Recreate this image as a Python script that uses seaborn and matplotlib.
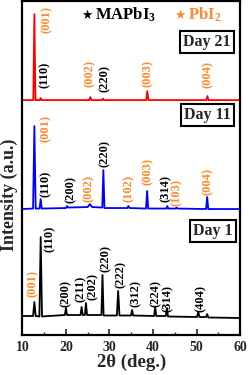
import matplotlib
matplotlib.use("Agg")

import numpy as np
import pandas as pd
import seaborn as sns
import matplotlib.pyplot as plt


# ---------------------------------------------------------------------------
# Data (2theta in deg., intensity above each trace's own baseline, a.u.)
# ---------------------------------------------------------------------------

day1_x = [10, 12.45, 12.75, 13.05, 13.9, 14.2, 14.5, 19.75, 20.0, 20.25,
          23.35, 23.6, 23.85, 24.35, 24.6, 24.85, 28.15, 28.4, 28.65,
          31.7, 32.0, 32.3, 34.95, 35.2, 35.45, 40.25, 40.5, 40.75,
          42.95, 43.2, 43.45, 50.1, 50.4, 50.7, 52.2, 52.45, 52.7, 60]
day1_y = [1, 1, 15, 1, 0.5, 80, 0.5, 2, 9, 2,
          2, 10, 2, 2, 14, 2, 2, 42, 1.5,
          1.5, 26, 1.5, 1.5, 7, 1.5, 1, 10, 1,
          1, 9, 0.5, 0, 5, 0, 0, 3, -0.5, -1]

day11_x = [10, 12.45, 12.75, 13.05, 13.95, 14.2, 14.45, 20.0, 20.25, 20.5,
           25.0, 25.5, 26.0, 28.35, 28.6, 28.85, 34.1, 34.35, 34.6,
           38.4, 38.65, 38.9, 43.1, 43.3, 43.5, 45.2, 45.4, 45.6,
           52.2, 52.45, 52.7, 60]
day11_y = [0, 0.5, 83, 0.5, 0.5, 10, 0.5, 1, 3, 1.5,
           2, 5, 2, 1.5, 39, 1, 1, 3, 1,
           0.5, 18, 0.5, 0.5, 3, 0.5, 0.5, 1.5, 0.5,
           0, 12, 0, 0]

day21_x = [10, 12.5, 12.75, 13.0, 14.0, 14.2, 14.4, 25.35, 25.6, 25.85,
           28.3, 28.5, 28.7, 38.45, 38.7, 38.95, 52.25, 52.5, 52.75, 60]
day21_y = [0, 0, 86, 0, 0, 2, 0, 0, 3, 0,
           0, 1.5, 0, 0, 9, 0, 0, 4, 0, 0]

# peak labels: hkl text, 2theta, label base height, phase
day1_labels = ["(001)", "(110)", "(200)", "(211)", "(202)", "(220)",
               "(222)", "(312)", "(224)", "(314)", "(404)"]
day1_lab_x = [12.4, 16.2, 20.0, 23.5, 26.1, 29.2, 32.6, 36.1, 40.7, 43.3, 51.0]
day1_lab_y = [38, 83, 28, 33, 35, 63, 47, 28, 28, 23, 23]
day1_phase = ["P", "M", "M", "M", "M", "M", "M", "M", "M", "M", "M"]

day11_labels = ["(001)", "(110)", "(200)", "(002)", "(220)", "(102)",
                "(003)", "(314)", "(103)", "(004)"]
day11_lab_x = [15.4, 15.4, 21.2, 25.2, 29.0, 34.4, 38.7, 42.9, 45.5, 52.5]
day11_lab_y = [193, 138, 132, 133, 168, 133, 150, 133, 129, 140]
day11_phase = ["P", "M", "M", "P", "M", "P", "P", "M", "P", "P"]

day21_labels = ["(001)", "(110)", "(002)", "(220)", "(003)", "(004)"]
day21_lab_x = [15.5, 15.2, 25.5, 29.0, 38.7, 52.7]
day21_lab_y = [302, 247, 248, 243, 248, 247]
day21_phase = ["P", "M", "P", "M", "P", "P"]

day_names = ["Day 1", "Day 11", "Day 21"]


# ---------------------------------------------------------------------------
# Style
# ---------------------------------------------------------------------------

sns.set_style("ticks")

plt.rcParams["font.family"] = ["Liberation Serif", "DejaVu Sans"]
plt.rcParams["font.weight"] = "bold"
plt.rcParams["mathtext.fontset"] = "custom"
plt.rcParams["mathtext.rm"] = "Liberation Serif:bold"
plt.rcParams["mathtext.bf"] = "Liberation Serif:bold"
plt.rcParams["mathtext.default"] = "bf"

ORANGE = "#FF8A2A"
phase_color = {"M": "black", "P": ORANGE}

offsets = [18, 126, 235]
trace_colors = ["black", "#0000FF", "#FF0000"]
box_pos = [(53.8, 104), (52.6, 220), (52.4, 293)]


# ---------------------------------------------------------------------------
# Plot
# ---------------------------------------------------------------------------

fig = plt.figure(figsize=(2.49, 3.75), dpi=100)
ax = fig.add_axes([0.090, 0.1067, 0.874, 0.8903])

traces = [(day1_x, day1_y), (day11_x, day11_y), (day21_x, day21_y)]

for (xs, ys), off, col in zip(traces, offsets, trace_colors):
    df = pd.DataFrame({"two_theta": xs, "intensity": np.array(ys) + off})
    sns.lineplot(data=df, x="two_theta", y="intensity", ax=ax,
                 color=col, lw=1.3, estimator=None, sort=False)

label_sets = [
    (day1_labels, day1_lab_x, day1_lab_y, day1_phase),
    (day11_labels, day11_lab_x, day11_lab_y, day11_phase),
    (day21_labels, day21_lab_x, day21_lab_y, day21_phase),
]

for labels, lx, ly, phase in label_sets:
    for t, x, y, p in zip(labels, lx, ly, phase):
        ax.text(x, y, t, rotation=90, ha="center", va="bottom",
                fontsize=9, fontweight="bold", color=phase_color[p])

for name, (bx, by) in zip(day_names, box_pos):
    ax.text(bx, by, name, ha="center", va="center", fontsize=11.5,
            fontweight="bold",
            bbox=dict(boxstyle="square,pad=0.2", fc="white", ec="black", lw=1.5))

# phase legend
ax.text(24.8, 320, "★", ha="center", va="center", fontsize=9,
        family="DejaVu Sans", color="black")
ax.text(26.6, 320, r"MAPbI$_3$", ha="left", va="center", fontsize=12,
        fontweight="bold", color="black")
ax.text(46.2, 320, "★", ha="center", va="center", fontsize=9,
        family="DejaVu Sans", color=ORANGE)
ax.text(48.0, 320, r"PbI$_2$", ha="left", va="center", fontsize=12,
        fontweight="bold", color=ORANGE)

ax.set_xlim(10, 60)
ax.set_ylim(0, 334)
ax.set_xticks([10, 20, 30, 40, 50, 60])
ax.set_xticks(np.arange(15, 60, 10), minor=True)
ax.set_yticks([])

ax.tick_params(axis="x", direction="in", length=4, width=1.2, labelsize=10, pad=4)
ax.tick_params(axis="x", which="minor", direction="in", length=2, width=1.0)
for lab in ax.get_xticklabels():
    lab.set_fontweight("bold")

for sp in ax.spines.values():
    sp.set_linewidth(1.6)
    sp.set_color("black")

ax.set_xlabel("2θ (deg.)", fontsize=13.5, fontweight="bold", labelpad=0)
ax.set_ylabel("Intensity (a.u.)", fontsize=13, fontweight="bold")
ax.yaxis.set_label_coords(-0.02, 0.42)

fig.savefig("out.png", dpi=100)
